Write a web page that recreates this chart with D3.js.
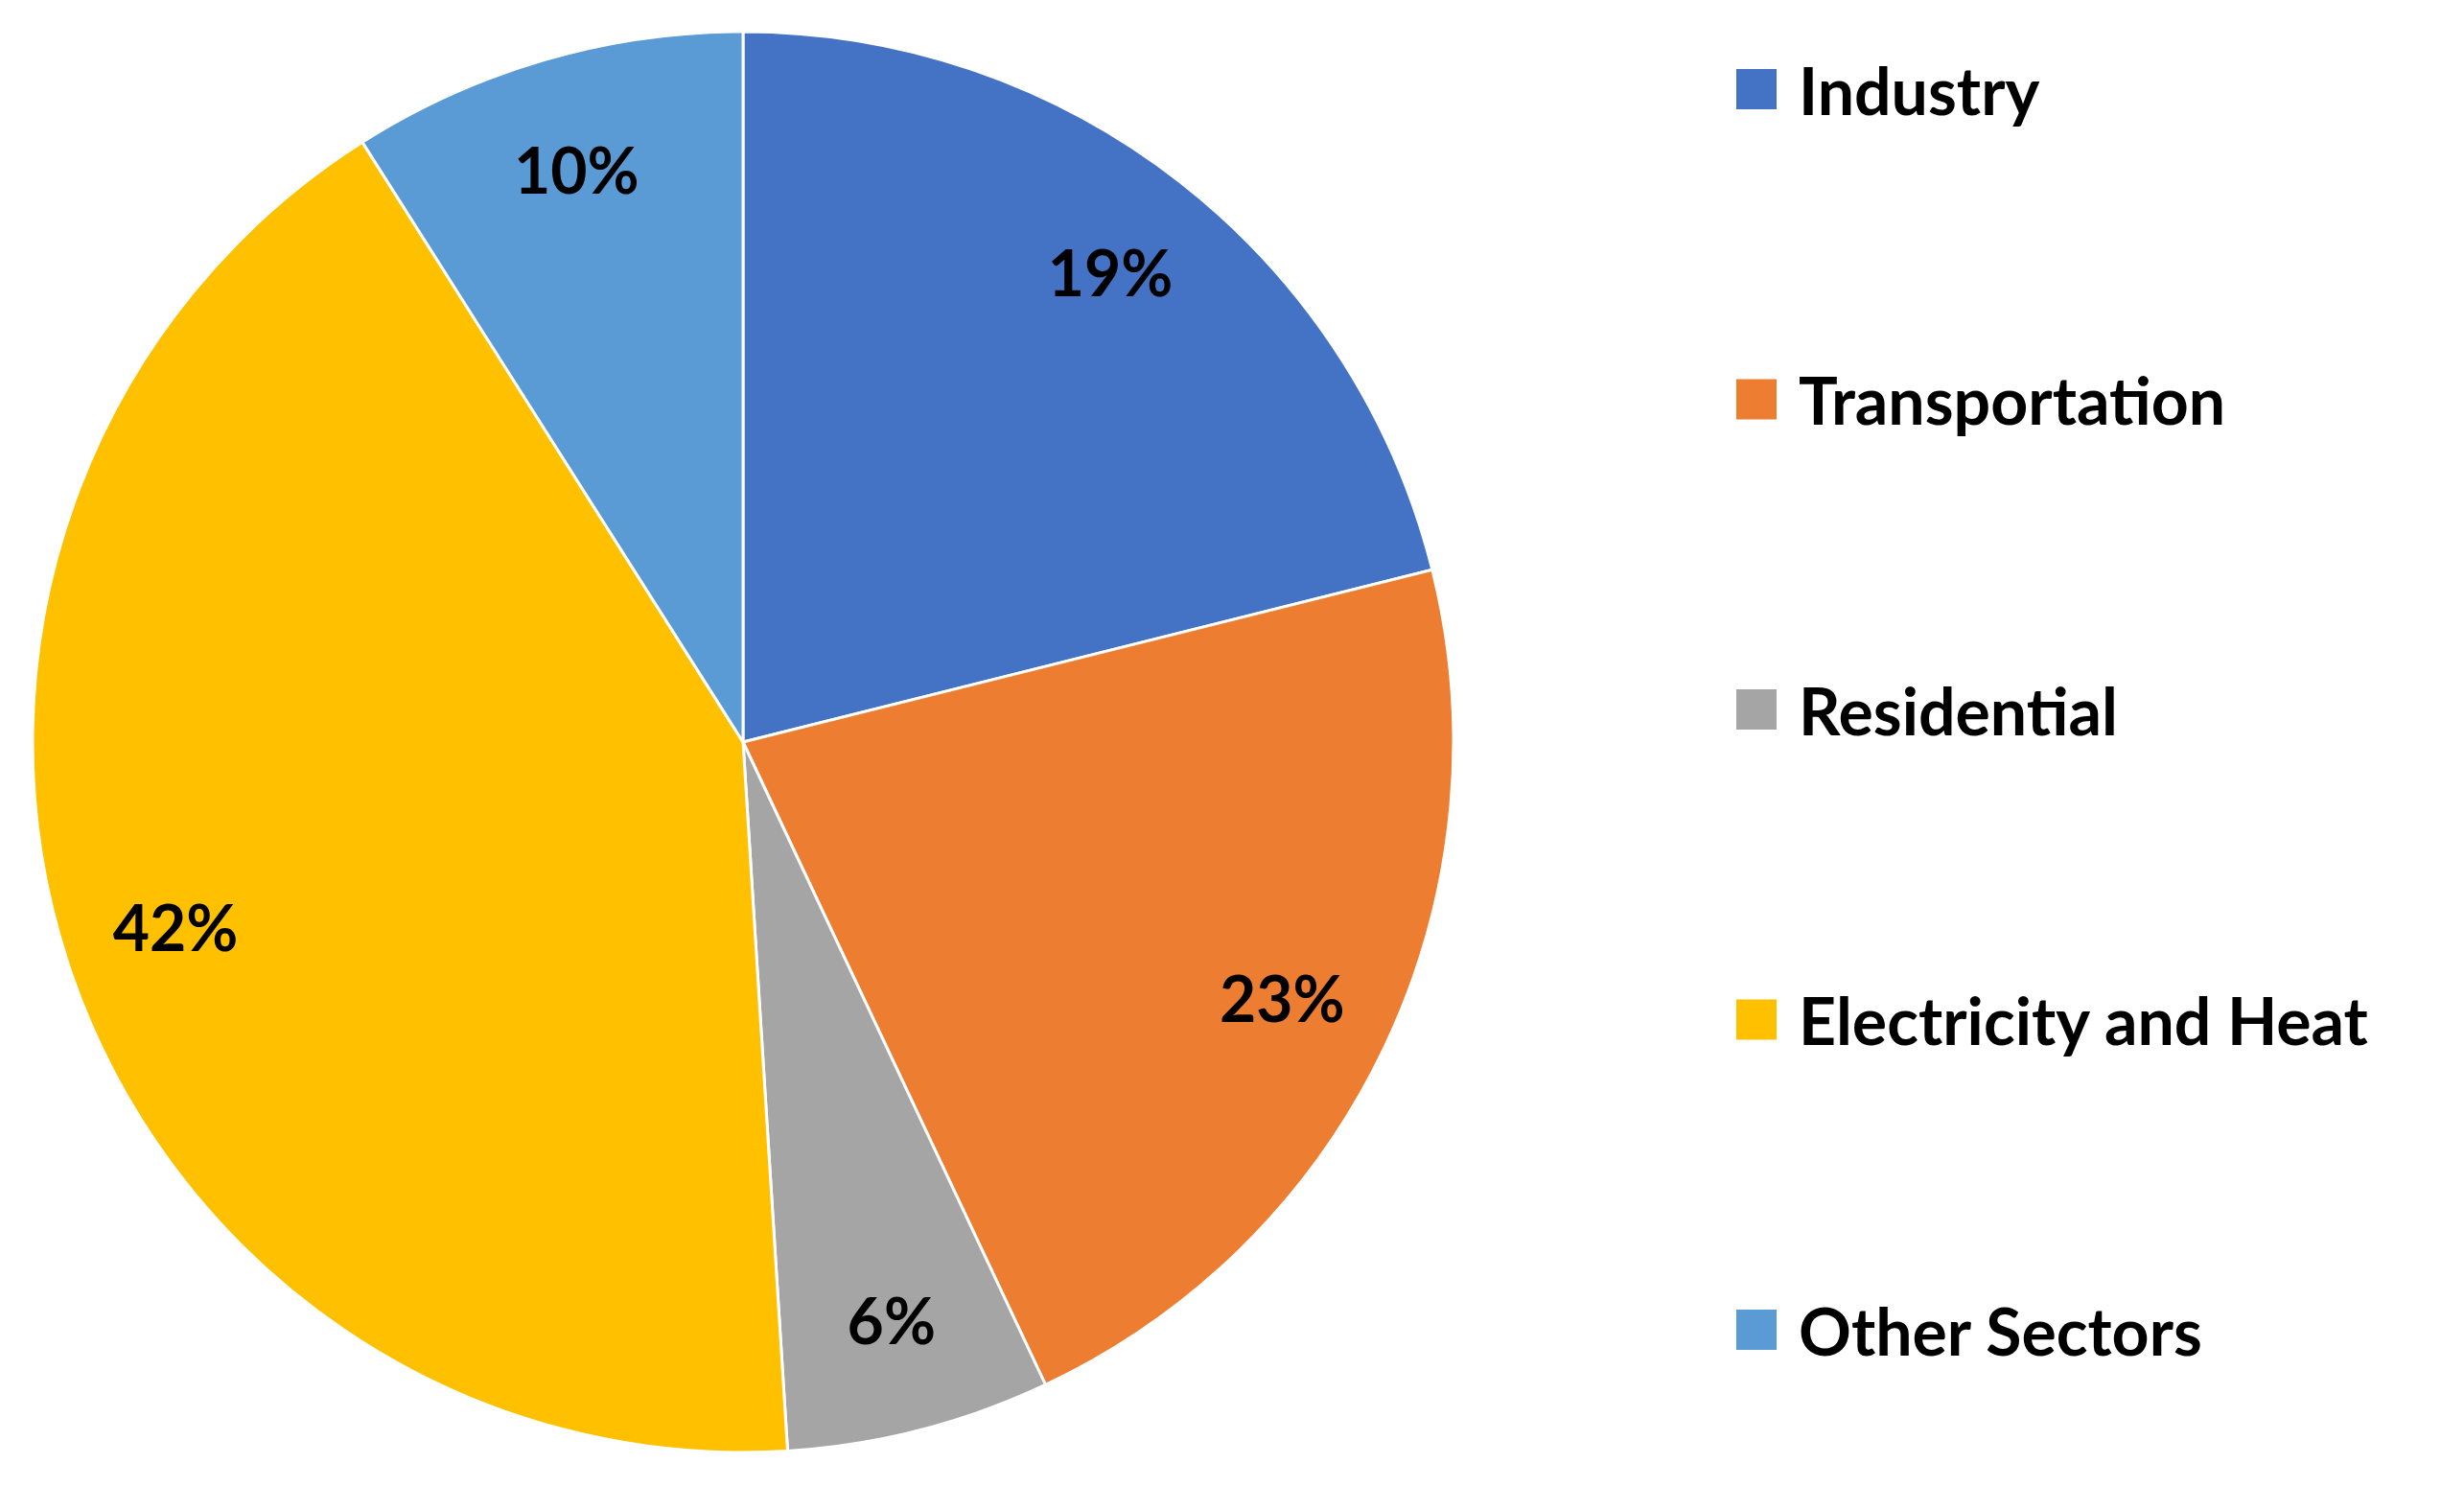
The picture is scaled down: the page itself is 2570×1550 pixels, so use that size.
<!DOCTYPE html>
<html><head><meta charset="utf-8">
<script src="https://cdn.jsdelivr.net/npm/d3@7"></script>
<style>body{margin:0;background:#fff}</style></head>
<body><svg id="c" width="2570" height="1550"></svg>
<script>
const categories=["Industry","Transportation","Residential","Electricity and Heat","Other Sectors"];
const values=[21.1,21.9,6.0,42.0,9.0];
const labels=["19%","23%","6%","42%","10%"];
const colors=["#4472C4","#ED7D31","#A5A5A5","#FFC000","#5B9BD5"];
const svg=d3.select("#c");
const cx=775,cy=774,R=741;
const pie=d3.pie().sort(null).value(d=>d)(values);
const arc=d3.arc().innerRadius(0).outerRadius(R);
const lab=d3.arc().innerRadius(R*0.84).outerRadius(R*0.84);
const g=svg.append("g").attr("transform",`translate(${cx},${cy})`);
g.selectAll("path").data(pie).join("path").attr("d",arc).attr("fill",(d,i)=>colors[i]).attr("stroke","#fff").attr("stroke-width",3);
g.selectAll("text").data(pie).join("text").attr("transform",d=>`translate(${lab.centroid(d)})`)
 .attr("text-anchor","middle").attr("dominant-baseline","central")
 .style("font-family","Lato, 'Open Sans', sans-serif").style("font-weight","bold").style("font-size","66px")
 .text((d,i)=>labels[i]);
const ly=d3.scalePoint().domain(categories).range([93,1387]);
const lg=svg.append("g");
categories.forEach((c,i)=>{
 lg.append("rect").attr("x",1811).attr("y",ly(c)-21).attr("width",42).attr("height",42).attr("fill",colors[i]);
 lg.append("text").attr("x",1876).attr("y",ly(c)).attr("dominant-baseline","central")
  .style("font-family","Lato, 'Open Sans', sans-serif").style("font-weight","bold").style("font-size","68px").text(c);
});
</script></body></html>
